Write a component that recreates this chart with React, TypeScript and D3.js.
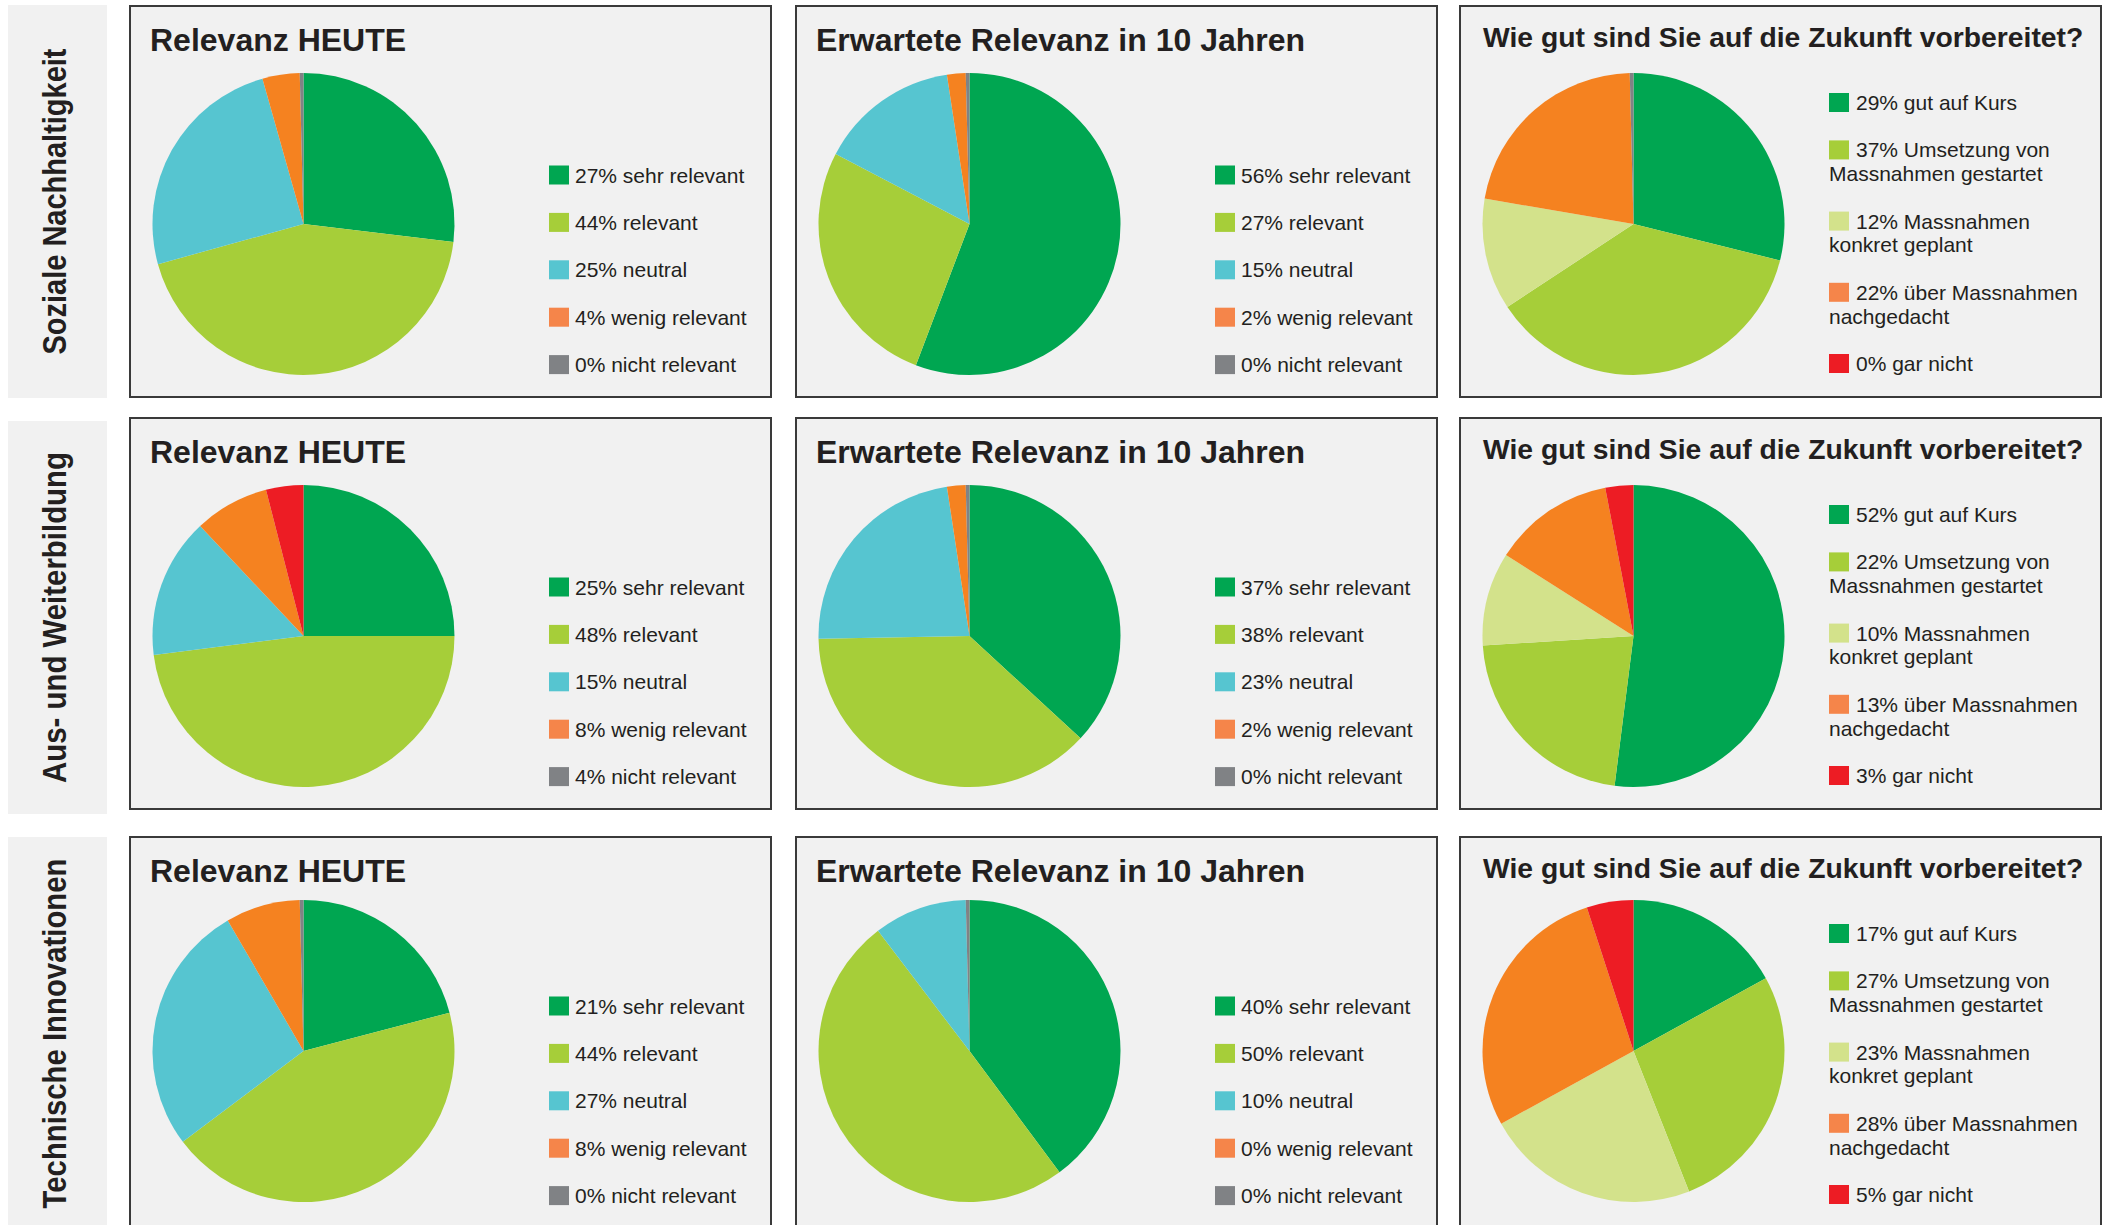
import React from "react";
import * as d3 from "d3";

// rows and panel titles
const themen = ["Soziale Nachhaltigkeit", "Aus- und Weiterbildung", "Technische Innovationen"];
const titel = ["Relevanz HEUTE", "Erwartete Relevanz in 10 Jahren", "Wie gut sind Sie auf die Zukunft vorbereitet?"];

const relevanzKategorien = ["sehr relevant", "relevant", "neutral", "wenig relevant", "nicht relevant"];
const vorbereitetKategorien = [
  ["gut auf Kurs"],
  ["Umsetzung von", "Massnahmen gestartet"],
  ["Massnahmen", "konkret geplant"],
  ["über Massnahmen", "nachgedacht"],
  ["gar nicht"],
];

// percentages per row (Soziale, Aus-/Weiterbildung, Technische)
const heute = [
  [27, 44, 25, 4, 0],
  [25, 48, 15, 8, 4],
  [21, 44, 27, 8, 0],
];
const inZehnJahren = [
  [56, 27, 15, 2, 0],
  [37, 38, 23, 2, 0],
  [40, 50, 10, 0, 0],
];
const vorbereitet = [
  [29, 37, 12, 22, 0],
  [52, 22, 10, 13, 3],
  [17, 27, 23, 28, 5],
];
// thin grey rest sliver that shows at 12 o'clock in some pies
const restHeute = [0.4, 0, 0.4];
const restZehn = [0.4, 0.4, 0.4];
const restVorb = [0.4, 0, 0];

const relevanzFarben = ["#00A651", "#A6CE39", "#56C5D0", "#F58220", "#808285"];
const vorbereitetFarben = ["#00A651", "#A6CE39", "#D3E28B", "#F58220", "#ED1C24"];
const relevanzSwatch = ["#00A651", "#A6CE39", "#56C5D0", "#F5854A", "#808285"];
const vorbereitetSwatch = ["#00A651", "#A6CE39", "#D3E28B", "#F5854A", "#ED1C24"];
// the "nicht relevant" slice of the middle row is drawn red in the original
const heuteLetzteFarbe = ["#808285", "#ED1C24", "#808285"];
const restFarbe = "#808285";

const W = 2111;
const H = 1225;
const colX = [129, 795, 1459];
const rowY = [5, 417, 836];
const labelY = [5, 421, 837];
const pieY = [219, 219, 215];
const panelW = 643;
const panelH = 393;
const R = 151;
const FONT = "'Liberation Sans', Arial, Helvetica, sans-serif";
const TEXT = "#231F20";

const pieGen = d3.pie<number>().sort(null).value((d) => d);
const arcGen = d3.arc<d3.PieArcDatum<number>>().innerRadius(0).outerRadius(R);

type PanelProps = {
  x: number;
  y: number;
  cyPie: number;
  title: string;
  titleSize: number;
  values: number[];
  rest: number;
  colors: string[];
  swatches: string[];
  labels: string[][];
  col: number;
};

const Panel: React.FC<PanelProps> = ({ x, y, cyPie, title, titleSize, values, rest, colors, swatches, labels, col }) => {
  const slices = pieGen([...values, rest]);
  const sliceColors = [...colors, restFarbe];
  const wide = col < 2;
  const swX = wide ? 420 : 370;
  const txX = wide ? 446 : 397;

  // vertical legend layout: one step per item plus extra for second lines
  const step = 47.4;
  const lineH = 23.8;
  const centers: number[] = [];
  let cy = wide ? 170 : 97.5;
  labels.forEach((l) => {
    centers.push(cy);
    cy += step + (l.length - 1) * lineH;
  });

  return (
    <g transform={`translate(${x},${y})`}>
      <rect x={1} y={1} width={panelW - 2} height={panelH - 2} fill="#F1F1F1" stroke="#3A3A3A" strokeWidth={2} />
      <text
        x={wide ? 21 : 24}
        y={wide ? 46 : 42}
        fontFamily={FONT}
        fontWeight="bold"
        fontSize={titleSize}
        fill={TEXT}
      >
        {title}
      </text>
      <g transform={`translate(174.5,${cyPie})`}>
        {slices.map((s, i) =>
          s.value > 0 ? <path key={i} d={arcGen(s) || ""} fill={sliceColors[i]} /> : null
        )}
      </g>
      {labels.map((l, i) => (
        <g key={i}>
          <rect x={swX} y={centers[i] - 9.5} width={20} height={19} fill={swatches[i]} />
          {l.map((line, j) => (
            <text
              key={j}
              x={j === 0 ? txX : swX}
              y={centers[i] + 7.5 + j * lineH}
              fontFamily={FONT}
              fontSize={21}
              fill={TEXT}
            >
              {j === 0 ? `${values[i]}% ${line}` : line}
            </text>
          ))}
        </g>
      ))}
    </g>
  );
};

const labelLengths = [306, 331, 350];

export default function App() {
  return (
    <svg
      width={W}
      height={H}
      viewBox={`0 0 ${W} ${H}`}
      style={{ position: "absolute", left: 0, top: 0, background: "#FFFFFF" }}
    >
      <rect x={0} y={0} width={W} height={H} fill="#FFFFFF" />
      {themen.map((t, r) => {
        const cy = labelY[r] + panelH / 2;
        return (
          <g key={t}>
            <rect x={8} y={labelY[r]} width={99} height={panelH} fill="#F1F1F1" />
            <text
              x={66}
              y={cy}
              transform={`rotate(-90,66,${cy})`}
              textAnchor="middle"
              fontFamily={FONT}
              fontWeight="bold"
              fontSize={34}
              textLength={labelLengths[r]}
              lengthAdjust="spacingAndGlyphs"
              fill={TEXT}
            >
              {t}
            </text>
            <Panel
              x={colX[0]}
              y={rowY[r]}
              cyPie={pieY[r]}
              col={0}
              title={titel[0]}
              titleSize={32}
              values={heute[r]}
              rest={restHeute[r]}
              colors={[...relevanzFarben.slice(0, 4), heuteLetzteFarbe[r]]}
              swatches={relevanzSwatch}
              labels={relevanzKategorien.map((k) => [k])}
            />
            <Panel
              x={colX[1]}
              y={rowY[r]}
              cyPie={pieY[r]}
              col={1}
              title={titel[1]}
              titleSize={32}
              values={inZehnJahren[r]}
              rest={restZehn[r]}
              colors={relevanzFarben}
              swatches={relevanzSwatch}
              labels={relevanzKategorien.map((k) => [k])}
            />
            <Panel
              x={colX[2]}
              y={rowY[r]}
              cyPie={pieY[r]}
              col={2}
              title={titel[2]}
              titleSize={28.3}
              values={vorbereitet[r]}
              rest={restVorb[r]}
              colors={vorbereitetFarben}
              swatches={vorbereitetSwatch}
              labels={vorbereitetKategorien}
            />
          </g>
        );
      })}
    </svg>
  );
}
